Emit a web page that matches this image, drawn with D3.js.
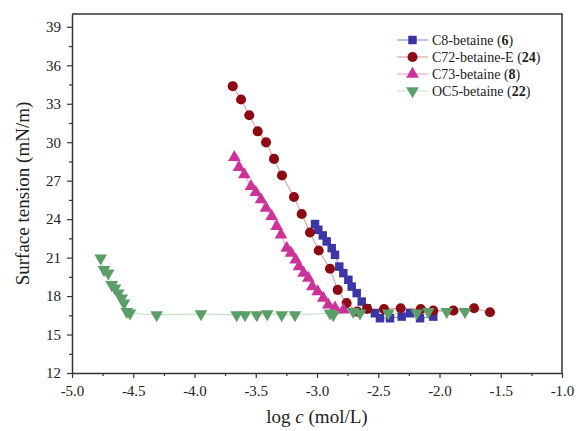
<!DOCTYPE html>
<html>
<head>
<meta charset="utf-8">
<script src="https://cdn.jsdelivr.net/npm/d3@7"></script>
<style>
  body { margin: 0; background: #fff; }
  svg text { font-family: "Liberation Serif", "Times New Roman", Times, "DejaVu Serif", serif; }
</style>
</head>
<body>
<svg id="chart"></svg>
<script>
// log c values and surface tension (mN/m)
const c8X = [-3.016, -2.989, -2.953, -2.921, -2.880, -2.853, -2.818, -2.785, -2.744, -2.717, -2.676, -2.635, -2.594, -2.527, -2.486, -2.404, -2.309, -2.241, -2.159, -2.051];
const c8Y = [23.62, 23.17, 22.73, 22.26, 21.74, 21.22, 20.30, 19.79, 19.27, 18.74, 18.23, 17.57, 17.05, 16.66, 16.27, 16.27, 16.40, 16.66, 16.27, 16.40];

const c72X = [-3.688, -3.620, -3.553, -3.484, -3.416, -3.351, -3.286, -3.188, -3.125, -3.057, -2.986, -2.894, -2.831, -2.758, -2.671, -2.590, -2.453, -2.317, -2.153, -2.051, -1.887, -1.718, -1.588];
const c72Y = [34.37, 33.33, 32.10, 30.85, 29.99, 28.70, 27.41, 25.73, 24.40, 22.96, 21.55, 20.13, 18.48, 17.45, 16.79, 17.00, 16.98, 17.05, 16.98, 16.87, 16.87, 17.05, 16.74];

const c73X = [-3.675, -3.637, -3.593, -3.539, -3.500, -3.457, -3.416, -3.370, -3.329, -3.294, -3.247, -3.212, -3.174, -3.147, -3.109, -3.071, -3.038, -2.994, -2.949, -2.908, -2.853, -2.784];
const c73Y = [28.82, 28.04, 27.47, 26.55, 26.09, 25.52, 24.87, 24.21, 23.43, 22.78, 21.74, 21.35, 20.83, 20.30, 19.79, 19.40, 18.74, 18.35, 17.84, 17.31, 17.08, 16.92];

const oc5X = [-4.766, -4.739, -4.704, -4.676, -4.649, -4.622, -4.594, -4.576, -4.553, -4.527, -4.309, -3.947, -3.656, -3.588, -3.492, -3.406, -3.288, -3.180, -2.894, -2.867, -2.704, -2.649, -2.418, -2.186, -2.091, -1.941, -1.792];
const oc5Y = [20.96, 20.05, 19.79, 18.88, 18.62, 18.23, 17.84, 17.45, 16.79, 16.66, 16.53, 16.61, 16.53, 16.53, 16.53, 16.61, 16.53, 16.53, 16.66, 16.53, 16.79, 16.66, 16.66, 16.66, 16.79, 16.79, 16.79];

const xTicks = [-5.0, -4.5, -4.0, -3.5, -3.0, -2.5, -2.0, -1.5, -1.0];
const yTicks = [12, 15, 18, 21, 24, 27, 30, 33, 36, 39];

const series = [
  { name: "C8-betaine", num: "6", xs: c8X, ys: c8Y, color: "#3b35a6", line: "#8c89cc", shape: d3.symbolSquare, size: 72, rot: 0 },
  { name: "C72-betaine-E", num: "24", xs: c72X, ys: c72Y, color: "#8e0a12", line: "#d9a0a0", shape: d3.symbolCircle, size: 80, rot: 0 },
  { name: "C73-betaine", num: "8", xs: c73X, ys: c73Y, color: "#cc3399", line: "#e7a3cf", shape: d3.symbolTriangle, size: 70, rot: 0 },
  { name: "OC5-betaine", num: "22", xs: oc5X, ys: oc5Y, color: "#5c9e68", line: "#c5e2c9", shape: d3.symbolTriangle, size: 70, rot: 180 }
];

const W = 578, H = 431;
const margin = { top: 14, right: 16, bottom: 58, left: 72 };
const svg = d3.select("#chart").attr("width", W).attr("height", H);

const x = d3.scaleLinear().domain([-5, -1]).range([margin.left, W - margin.right]);
const y = d3.scaleLinear().domain([12, 40]).range([H - margin.bottom, margin.top]);

const axisColor = "#333";
const fmtX = d => d.toFixed(1); // plain hyphen minus, like the original

// minor ticks
const xMinor = d3.range(-5, -0.99, 0.25).filter(v => Math.abs(v * 2 - Math.round(v * 2)) > 0.01);
const yMinor = d3.range(13.5, 40, 3);

const gx = svg.append("g").attr("transform", `translate(0,${y(12)})`);
gx.call(d3.axisBottom(x).tickValues(xTicks).tickFormat(fmtX).tickSize(5).tickSizeOuter(0));
gx.append("g").call(d3.axisBottom(x).tickValues(xMinor).tickSize(3).tickFormat(""))
  .select(".domain").remove();

const gy = svg.append("g").attr("transform", `translate(${x(-5)},0)`);
gy.call(d3.axisLeft(y).tickValues(yTicks).tickSize(5).tickSizeOuter(0).tickPadding(6));
gy.append("g").call(d3.axisLeft(y).tickValues(yMinor).tickSize(3).tickFormat(""))
  .select(".domain").remove();

svg.selectAll(".domain").attr("stroke", axisColor).attr("stroke-width", 1.5);
svg.selectAll(".tick line").attr("stroke", axisColor).attr("stroke-width", 1.2);
svg.selectAll(".tick text").attr("font-family", null).attr("font-size", 15).attr("fill", "#222");
gx.selectAll(".tick text").attr("dy", "1.0em");

// top and right frame
svg.append("path")
  .attr("d", `M${x(-5)},${y(40)}H${x(-1)}V${y(12)}`)
  .attr("fill", "none").attr("stroke", axisColor).attr("stroke-width", 1.5);

// axis titles
svg.append("text")
  .attr("transform", `translate(22,${(y(12) + y(40)) / 2}) rotate(-90)`)
  .attr("text-anchor", "middle").attr("dy", "0.35em")
  .attr("font-size", 19).attr("fill", "#222")
  .text("Surface tension (mN/m)");

const xt = svg.append("text")
  .attr("x", (x(-5) + x(-1)) / 2).attr("y", 423)
  .attr("text-anchor", "middle").attr("font-size", 19).attr("fill", "#222");
xt.append("tspan").text("log ");
xt.append("tspan").attr("font-style", "italic").text("c");
xt.append("tspan").text(" (mol/L)");

// series
const line = d3.line().x(d => x(d[0])).y(d => y(d[1]));
const plot = svg.append("g");
series.forEach(s => {
  const pts = s.xs.map((v, i) => [v, s.ys[i]]);
  plot.append("path").datum(pts).attr("d", line)
    .attr("fill", "none").attr("stroke", s.line).attr("stroke-width", 1.1);
});
series.forEach(s => {
  const pts = s.xs.map((v, i) => [v, s.ys[i]]);
  plot.append("g").selectAll("path").data(pts).join("path")
    .attr("transform", d => `translate(${x(d[0])},${y(d[1])}) rotate(${s.rot})`)
    .attr("d", d3.symbol().type(s.shape).size(s.size))
    .attr("fill", s.color);
});

// legend
const legend = svg.append("g").attr("transform", "translate(397,40)");
series.forEach((s, i) => {
  const g = legend.append("g").attr("transform", `translate(0,${i * 17})`);
  g.append("line").attr("x1", 0).attr("x2", 31).attr("stroke", s.line).attr("stroke-width", 1.1);
  g.append("path")
    .attr("transform", `translate(15.5,0) rotate(${s.rot})`)
    .attr("d", d3.symbol().type(s.shape).size(s.size))
    .attr("fill", s.color);
  const t = g.append("text").attr("x", 35).attr("dy", "0.35em").attr("font-size", 14).attr("fill", "#222");
  t.append("tspan").text(s.name + " (");
  t.append("tspan").attr("font-weight", "bold").text(s.num);
  t.append("tspan").text(")");
});
</script>
</body>
</html>
